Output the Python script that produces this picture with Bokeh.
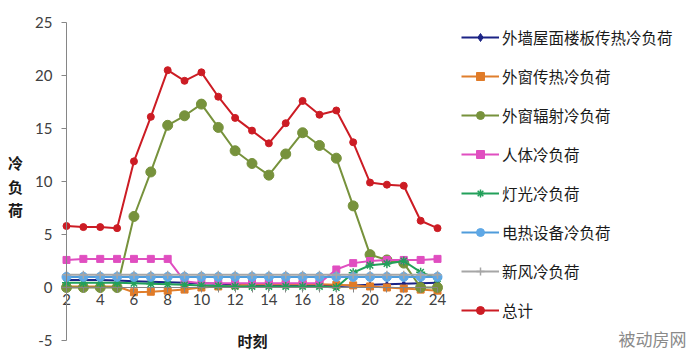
from bokeh.plotting import figure
from bokeh.models import (Range1d, LinearAxis, FixedTicker, Legend, LegendItem, Label)
from bokeh.embed import file_html
from bokeh.resources import INLINE

hours = list(range(2, 25))
x_tick_labels = [2, 4, 6, 8, 10, 12, 14, 16, 18, 20, 22, 24]
x_minor = [3, 5, 7, 9, 11, 13, 15, 17, 19, 21, 23]
y_ticks = [-5, 0, 5, 10, 15, 20, 25]

names = ["外墙屋面楼板传热冷负荷", "外窗传热冷负荷", "外窗辐射冷负荷", "人体冷负荷",
         "灯光冷负荷", "电热设备冷负荷", "新风冷负荷", "总计"]

wall = [0.7, 0.7, 0.7, 0.65, 0.6, 0.55, 0.5, 0.45, 0.4, 0.35, 0.3, 0.25, 0.2, 0.2, 0.2, 0.2,
        0.15, 0.2, 0.25, 0.3, 0.35, 0.4, 0.45]
win_cond = [0.1, 0.1, 0.1, 0.1, -0.45, -0.4, -0.3, -0.2, 0.0, 0.1, 0.2, 0.3, 0.3, 0.3, 0.3,
            0.3, 0.25, 0.2, 0.1, 0.0, -0.1, -0.2, -0.3]
win_solar = [0, 0, 0, 0, 6.7, 10.9, 15.3, 16.2, 17.3, 15.1, 12.9, 11.7, 10.6, 12.6, 14.6,
             13.4, 12.2, 7.7, 3.1, 2.6, 2.3, 0, 0]
people = [2.6, 2.7, 2.7, 2.7, 2.7, 2.7, 2.7, 0.6, 0.4, 0.4, 0.4, 0.4, 0.4, 0.4, 0.4, 0.4,
          1.7, 2.3, 2.5, 2.6, 2.6, 2.6, 2.7]
lights = [0.45, 0.45, 0.45, 0.45, 0.4, 0.35, 0.3, 0.25, 0.2, 0.15, 0.1, 0.1, 0.1, 0.1, 0.1,
          0.1, 0.0, 1.4, 2.1, 2.25, 2.5, 1.45, 0.85]
equip = [1.0] * 23
fresh_air = [1.2] * 23
total = [5.8, 5.7, 5.7, 5.6, 11.9, 16.1, 20.5, 19.5, 20.3, 18.0, 16.0, 14.8, 13.6, 15.5, 17.6,
         16.3, 16.7, 13.7, 9.9, 9.7, 9.6, 6.3, 5.6]

series = [wall, win_cond, win_solar, people, lights, equip, fresh_air, total]
line_colors = ["#1B2385", "#E07E2C", "#77923C", "#E04EC0", "#22A05A", "#4F9CDB", "#A6A6A6", "#CC1C24"]
marker_colors = ["#1B2385", "#E07B28", "#77923C", "#E04EC0", "#22A05A", "#5FA8E6", "#A6A6A6", "#CC1C24"]
markers = ["diamond", "square", "circle", "square", "asterisk", "circle", "cross", "circle"]
msizes = [6, 7, 10, 7, 9, 9, 8, 7]

# frame covers the whole canvas; plot area 2..24 x -5..25 maps to px 66..437 x 340..22
XPX = 371.0 / 22.0
YPX = 318.0 / 30.0
x0 = 2 - 66 / XPX
x1 = 2 + (700 - 66) / XPX
y1 = 287 / YPX
y0 = (287 - 355) / YPX

p = figure(width=700, height=355, output_backend="svg", toolbar_location=None,
           x_range=Range1d(x0, x1), y_range=Range1d(y0, y1),
           x_axis_location=None, y_axis_location=None,
           min_border_left=0, min_border_right=0, min_border_top=0, min_border_bottom=0)
p.outline_line_color = None
p.grid.visible = False
p.background_fill_color = "white"

yax = LinearAxis(ticker=FixedTicker(ticks=y_ticks), fixed_location=2, bounds=(-5, 25))
yax.axis_line_color = "#868686"
yax.major_tick_line_color = "#868686"
yax.major_tick_out = 5
yax.major_tick_in = 0
yax.minor_tick_line_color = None
yax.major_label_text_font = "Lato"
yax.major_label_text_font_size = "15px"
yax.major_label_text_color = "#404040"
yax.major_label_standoff = 9
yax.major_label_overrides = {-5: "-5"}
p.add_layout(yax, "left")

xax = LinearAxis(ticker=FixedTicker(ticks=x_tick_labels, minor_ticks=x_minor),
                 fixed_location=0, bounds=(2, 24))
xax.axis_line_color = "#868686"
xax.major_tick_line_color = "#868686"
xax.minor_tick_line_color = "#868686"
xax.major_tick_out = 5
xax.major_tick_in = 0
xax.minor_tick_out = 5
xax.minor_tick_in = 0
xax.major_label_text_font = "Lato"
xax.major_label_text_font_size = "15px"
xax.major_label_text_color = "#404040"
xax.major_label_standoff = 1
p.add_layout(xax, "below")

items = []
for name, ys, lc, mc, mk, ms in zip(names, series, line_colors, marker_colors, markers, msizes):
    lr = p.line(hours, ys, line_color=lc, line_width=2)
    if mk in ("asterisk", "cross"):
        sr = p.scatter(hours, ys, marker=mk, size=ms, line_color=mc, line_width=1.5)
    else:
        sr = p.scatter(hours, ys, marker=mk, size=ms, fill_color=mc, line_color=mc)
    items.append(LegendItem(label=name, renderers=[lr, sr]))

legend = Legend(items=items, location=(461, 34))
legend.border_line_color = None
legend.background_fill_alpha = 0
legend.padding = 0
legend.margin = 0
legend.glyph_width = 38
legend.glyph_height = 20
legend.label_height = 20
legend.spacing = 17
legend.label_standoff = 3
legend.label_text_font = "Noto Sans CJK SC"
legend.label_text_font_size = "15.5px"
legend.label_text_color = "#1a1a1a"
p.add_layout(legend, "center")

for ch, yy in zip(["冷", "负", "荷"], [11.8, 9.5, 7.4]):
    p.add_layout(Label(x=2 - 51 / XPX, y=yy, text=ch, text_align="center", text_baseline="middle",
                       text_font="Noto Sans CJK SC", text_font_size="15px",
                       text_font_style="bold", text_color="#1a1a1a"))

p.add_layout(Label(x=13.03, y=-5.0, text="时刻", text_align="center", text_baseline="middle",
                   text_font="Noto Sans CJK SC", text_font_size="15px",
                   text_font_style="bold", text_color="#1a1a1a"))

p.add_layout(Label(x=36.75, y=-4.8, text="被动房网", text_align="center", text_baseline="middle",
                   text_font="Noto Sans CJK SC", text_font_size="17px", text_color="#8a8a8a"))

open("out.html", "w").write(file_html(p, INLINE))
